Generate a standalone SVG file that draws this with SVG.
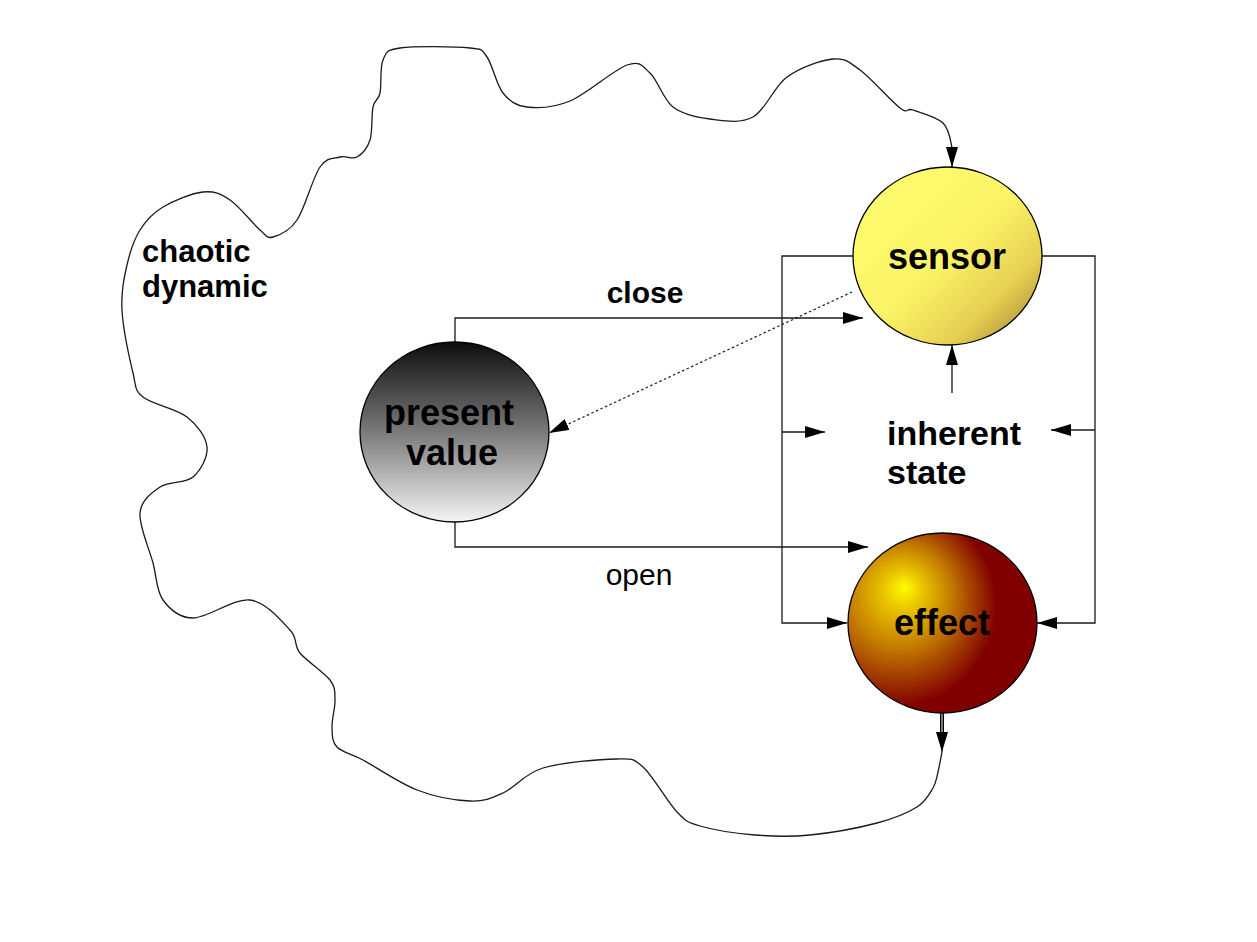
<svg xmlns="http://www.w3.org/2000/svg" width="1257" height="942" viewBox="0 0 1257 942">
<style>
.bg{fill:#ffffff}
.node{stroke:#000;stroke-width:1.3}
.ln{fill:none;stroke:#1a1a1a;stroke-width:1.3}
.dot{fill:none;stroke:#1a1a1a;stroke-width:1.2;stroke-dasharray:2.5,2.5}
.t{font-family:"Liberation Sans",Arial,sans-serif;font-weight:bold;fill:#000}
.r{font-family:"Liberation Sans",Arial,sans-serif;font-weight:normal;fill:#000}
</style>
<defs>
<marker id="ah" markerUnits="userSpaceOnUse" markerWidth="20" markerHeight="12" refX="20" refY="6" orient="auto" viewBox="0 0 20 12">
<path d="M0,0 L20,6 L0,12 z" fill="#000"/>
</marker>
<linearGradient id="gSensor" x1="0" y1="0" x2="1" y2="1">
<stop offset="0" stop-color="#ffff70"/>
<stop offset="0.5" stop-color="#fbf466"/>
<stop offset="0.75" stop-color="#e6cf52"/>
<stop offset="1" stop-color="#9c7530"/>
</linearGradient>
<linearGradient id="gPresent" x1="0" y1="0" x2="0" y2="1">
<stop offset="0" stop-color="#0d0d0d"/>
<stop offset="0.5" stop-color="#7a7a7a"/>
<stop offset="1" stop-color="#f5f5f5"/>
</linearGradient>
<radialGradient id="gEffect" gradientUnits="userSpaceOnUse" cx="893" cy="608" r="120" fx="905" fy="587">
<stop offset="0" stop-color="#ffff00"/>
<stop offset="0.15" stop-color="#ecc800"/>
<stop offset="0.4" stop-color="#c88400"/>
<stop offset="0.6" stop-color="#a84800"/>
<stop offset="0.85" stop-color="#800000"/>
<stop offset="1" stop-color="#800000"/>
</radialGradient>
</defs>
<rect class="bg" x="0" y="0" width="1257" height="942"/>
<g id="connectors">
<path id="chaotic-curve" class="ln" marker-end="url(#ah)" d="M942,752 C941.3,755.3 939.5,766 938,772 S936.5,782.2 933,788 S926.3,801.2 917,807 S894.8,818.3 877,823 S830.3,833 810,835 S773.3,836.5 755,835 S713,829.8 700,826 S686.5,821.8 677,812 S653,775.8 643,767 S633.7,758.8 617,759 S562,762.3 543,768 S515.2,787.5 503,793 S484.3,801.5 470,801 S434.8,796.8 417,790 S376.3,767.2 363,760 S342.2,752.5 337,747 S332.3,734.8 332,727 S335.3,707.8 335,700 S335.8,687.8 330,680 S306.7,661.3 300,653 S298.3,638.8 290,630 S266.2,602 250,600 S207.5,618 193,618 S169.7,609.2 163,600 S156.8,577.5 153,563 S138.8,525.7 140,513 S151.2,493 160,487 S185.2,483.7 193,477 S208,457 207,447 S197.7,425.3 187,417 S152,404.3 143,397 S136.5,387.5 133,373 S123,328 122,310 S124,278.3 127,265 S134,239.7 140,230 S152.5,213.3 163,207 S191.8,193.2 203,192 S220.5,193.7 230,200 S252.8,223.8 260,230 S266.8,238.7 273,237 S289.2,231.7 297,220 S312.8,177.5 320,167 S333.8,158.7 340,157 S352,159.8 357,157 S367.3,148.3 370,140 S371.3,114.8 373,107 S378.3,100.8 380,93 S379.7,67.5 383,60 S385.5,50 400,48 S455.5,46.5 470,48 S481.5,49.5 487,57 S496.3,84.7 503,93 S515.8,105.7 527,107 S553.3,108 570,101 S613.7,69.7 627,65 S642.3,66 650,73 S663,99.3 673,107 S696.7,117.3 710,119 S740.2,124 753,117 S773.7,86.7 787,77 S820.8,60.2 833,59 S848.8,61.8 860,70 S891.2,101.3 900,108 S905.8,107.5 913,110 S936.5,116.7 943,123 S950.5,140.7 952,148 S952,163.8 952,167"/>
<line x1="942" y1="713" x2="942" y2="736" stroke="#000" stroke-width="4"/>
<line x1="942" y1="713" x2="942" y2="736" stroke="#999" stroke-width="1.6"/>
<line class="ln" x1="942" y1="733" x2="942" y2="752" marker-end="url(#ah)"/>
<polyline id="close-conn" class="ln" points="455,342 455,318 863,318" marker-end="url(#ah)"/>
<polyline id="open-conn" class="ln" points="455,522 455,547 868,547" marker-end="url(#ah)"/>
<line id="sensor-present" class="dot" x1="852" y1="292" x2="549" y2="433" marker-end="url(#ah)"/>
<polyline class="ln" points="853,256 782,256 782,623 847,623" marker-end="url(#ah)"/>
<polyline class="ln" points="1042,256 1095,256 1095,623 1037,623" marker-end="url(#ah)"/>
<line class="ln" x1="782" y1="432" x2="825" y2="432" marker-end="url(#ah)"/>
<line class="ln" x1="1095" y1="430" x2="1051" y2="430" marker-end="url(#ah)"/>
<line class="ln" x1="952" y1="393" x2="952" y2="345" marker-end="url(#ah)"/>
</g>
<g id="node-sensor">
<ellipse class="node" cx="947.5" cy="256" rx="94.5" ry="89" fill="url(#gSensor)"/>
<text class="t" x="947" y="269" font-size="36" text-anchor="middle">sensor</text>
</g>
<g id="node-present">
<ellipse class="node" cx="454.5" cy="432" rx="94.5" ry="90" fill="url(#gPresent)"/>
<text class="t" x="449" y="425" font-size="36" text-anchor="middle">present</text>
<text class="t" x="452" y="465" font-size="36" text-anchor="middle">value</text>
</g>
<g id="node-effect">
<ellipse class="node" cx="942.5" cy="623" rx="94.5" ry="90" fill="url(#gEffect)"/>
<text class="t" x="942" y="635" font-size="36" text-anchor="middle">effect</text>
</g>
<g id="node-inherent">
<text class="t" x="887" y="445" font-size="34">inherent</text>
<text class="t" x="887" y="484" font-size="34">state</text>
</g>
<g id="node-chaotic">
<text class="t" x="142" y="262" font-size="31">chaotic</text>
<text class="t" x="142" y="297" font-size="31">dynamic</text>
</g>
<g id="labels">
<text class="t" x="645" y="303" font-size="30" text-anchor="middle">close</text>
<text class="r" x="639" y="585" font-size="30" text-anchor="middle">open</text>
</g>
</svg>
